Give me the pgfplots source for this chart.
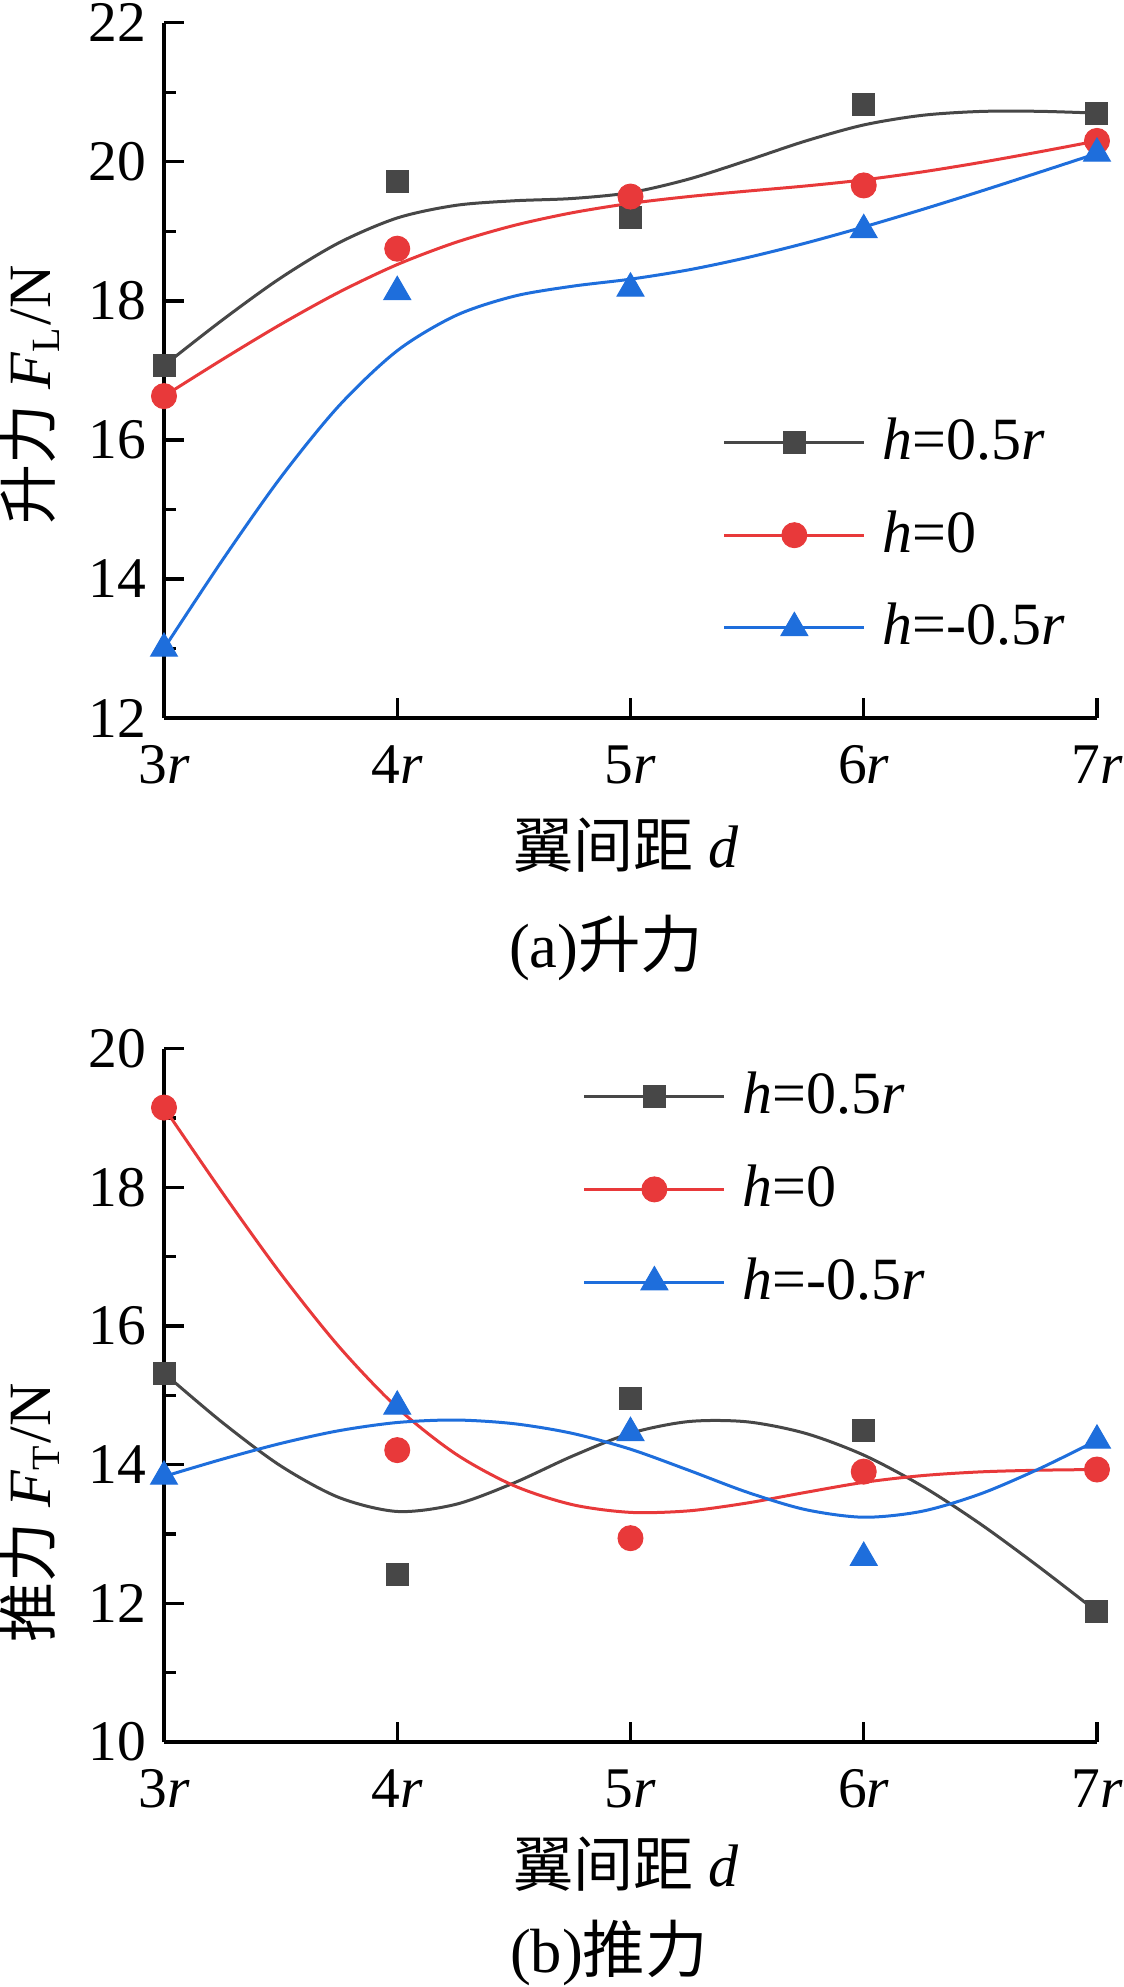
\documentclass[border=0pt]{standalone}
\usepackage{fontspec}
\setmainfont{Liberation Serif}
\newfontfamily\cjk{Noto Sans CJK SC}
\usepackage{pgfplots}
\pgfplotsset{compat=1.18}
\definecolor{cgray}{HTML}{474747}
\definecolor{cred}{HTML}{E8393A}
\definecolor{cblue}{HTML}{1E6EDC}
\pgfplotsset{
 myaxis/.style={
  scale only axis, width=186.6pt, clip=false,
  xmin=3, xmax=7,
  axis x line*=bottom, axis y line*=left,
  axis line style={line width=0.66pt, black},
  tick style={line width=0.66pt, black},
  major tick length=4pt, minor tick length=2.4pt,
  xtick={3,4,5,6,7},
  xticklabels={3\textit{r},4\textit{r},5\textit{r},6\textit{r},7\textit{r}},
  minor y tick num=1,
  /pgf/number format/assume math mode=true,
  tick label style={font=\fontsize{11.5}{13}\selectfont},
  xticklabel style={yshift=-2pt},
  label style={font=\fontsize{12}{14}\selectfont},
  every axis title shift=0pt,
  title style={font=\fontsize{12.5}{15}\selectfont},
  legend cell align=left,
  legend image code/.code={\draw[mark repeat=2,mark phase=2,#1] plot coordinates {(0pt,0pt) (14pt,0pt) (28pt,0pt)};},
  legend style={draw=none, fill=none, inner sep=0pt, outer sep=0pt, row sep=8.7pt, column sep=3.4pt, nodes={inner sep=0pt}, font=\fontsize{12}{14}\selectfont},
 },
 lgray/.style={cgray, line width=0.6pt},
 lred/.style={cred, line width=0.6pt},
 lblue/.style={cblue, line width=0.6pt},
 mgray/.style={cgray, mark=square*, mark size=2.2pt, mark options={solid, line width=0.2pt}},
 mred/.style={cred, mark=*, mark size=2.5pt, mark options={solid, line width=0.2pt}},
 mblue/.style={cblue, mark=triangle*, mark size=3.1pt, mark options={solid, line width=0.2pt}},
}
\begin{document}
\begin{tikzpicture}
\path[use as bounding box] (0pt,0pt) rectangle (224.8pt,-397.4pt);
% ---------- (a) lift ----------
\begin{axis}[myaxis, at={(32.8pt,-143.6pt)}, anchor=south west,
  height=139.06pt, ymin=12, ymax=22, ytick={12,14,16,18,20,22},
  ylabel={{\cjk 升力} \textit{F}\textsubscript{L}/N},
  ylabel style={at={(axis description cs:-0.1436,0.4645)}, anchor=center},
  xlabel={{\cjk 翼间距} \textit{d}},
  xlabel style={at={(axis description cs:0.495,-0.1827)}, anchor=center},
  title={(a){\cjk 升力}},
  title style={at={(axis description cs:0.474,-0.331)}, anchor=center},
  legend style={at={(rel axis cs:0.599,0.4315)}, anchor=north west},
]
\addlegendimage{lgray, mgray}\addlegendentry{\textit{h}=0.5\textit{r}}
\addlegendimage{lred, mred}\addlegendentry{\textit{h}=0}
\addlegendimage{lblue, mblue}\addlegendentry{\textit{h}=-0.5\textit{r}}
% h=0.5r
\addplot[lgray, smooth, forget plot] coordinates {(3,17.07)(3.25,17.724)(3.5,18.329)(3.75,18.835)(4,19.192)(4.25,19.373)(4.5,19.439)(4.75,19.472)(5,19.557)(5.25,19.751)(5.5,20.018)(5.75,20.298)(6,20.530)(6.25,20.668)(6.5,20.724)(6.75,20.726)(7,20.70)};
\addplot[mgray, only marks, forget plot] coordinates {(3,17.07)(4,19.72)(5,19.20)(6,20.82)(7,20.70)};
% h=0
\addplot[lred, smooth, forget plot] coordinates {(3,16.63)(3.25,17.156)(3.5,17.661)(3.75,18.124)(4,18.522)(4.25,18.840)(4.5,19.084)(4.75,19.267)(5,19.402)(5.25,19.500)(5.5,19.578)(5.75,19.652)(6,19.740)(6.25,19.854)(6.5,19.990)(6.75,20.141)(7,20.30)};
\addplot[mred, only marks, forget plot] coordinates {(3,16.63)(4,18.75)(5,19.50)(6,19.66)(7,20.30)};
% h=-0.5r
\addplot[lblue, smooth, forget plot] coordinates {(3,13.00)(3.25,14.269)(3.5,15.459)(3.75,16.490)(4,17.283)(4.25,17.787)(4.5,18.066)(4.75,18.210)(5,18.312)(5.25,18.446)(5.5,18.622)(5.75,18.830)(6,19.063)(6.25,19.313)(6.5,19.575)(6.75,19.846)(7,20.12)};
\addplot[mblue, only marks, forget plot] coordinates {(3,13.00)(4,18.13)(5,18.18)(6,19.02)(7,20.12)};
\end{axis}
% ---------- (b) thrust ----------
\begin{axis}[myaxis, at={(32.8pt,-348.4pt)}, anchor=south west,
  height=138.68pt, ymin=10, ymax=20, ytick={10,12,14,16,18,20},
  ylabel={{\cjk 推力} \textit{F}\textsubscript{T}/N},
  ylabel style={at={(axis description cs:-0.1436,0.330)}, anchor=center},
  xlabel={{\cjk 翼间距} \textit{d}},
  xlabel style={at={(axis description cs:0.495,-0.176)}, anchor=center},
  title={(b){\cjk 推力}},
  title style={at={(axis description cs:0.477,-0.304)}, anchor=center},
  legend style={at={(rel axis cs:0.449,0.966)}, anchor=north west},
]
\addlegendimage{lgray, mgray}\addlegendentry{\textit{h}=0.5\textit{r}}
\addlegendimage{lred, mred}\addlegendentry{\textit{h}=0}
\addlegendimage{lblue, mblue}\addlegendentry{\textit{h}=-0.5\textit{r}}
% h=0.5r
\addplot[lgray, smooth, forget plot] coordinates {(3,15.32)(3.25,14.609)(3.5,13.983)(3.75,13.527)(4,13.325)(4.25,13.427)(4.5,13.736)(4.75,14.122)(5,14.453)(5.25,14.622)(5.5,14.618)(5.75,14.452)(6,14.138)(6.25,13.692)(6.5,13.145)(6.75,12.529)(7,11.88)};
\addplot[mgray, only marks, forget plot] coordinates {(3,15.32)(4,12.42)(5,14.95)(6,14.50)(7,11.88)};
% h=0
\addplot[lred, smooth, forget plot] coordinates {(3,19.15)(3.25,17.925)(3.5,16.756)(3.75,15.703)(4,14.822)(4.25,14.156)(4.5,13.698)(4.75,13.424)(5,13.312)(5.25,13.334)(5.5,13.447)(5.75,13.600)(6,13.745)(6.25,13.842)(6.5,13.896)(6.75,13.920)(7,13.93)};
\addplot[mred, only marks, forget plot] coordinates {(3,19.15)(4,14.21)(5,12.94)(6,13.90)(7,13.93)};
% h=-0.5r
\addplot[lblue, smooth, forget plot] coordinates {(3,13.83)(3.25,14.079)(3.5,14.306)(3.75,14.490)(4,14.608)(4.25,14.644)(4.5,14.591)(4.75,14.452)(5,14.223)(5.25,13.919)(5.5,13.603)(5.75,13.352)(6,13.242)(6.25,13.328)(6.5,13.578)(6.75,13.937)(7,14.35)};
\addplot[mblue, only marks, forget plot] coordinates {(3,13.83)(4,14.84)(5,14.46)(6,12.66)(7,14.35)};
\end{axis}
\end{tikzpicture}
\end{document}
